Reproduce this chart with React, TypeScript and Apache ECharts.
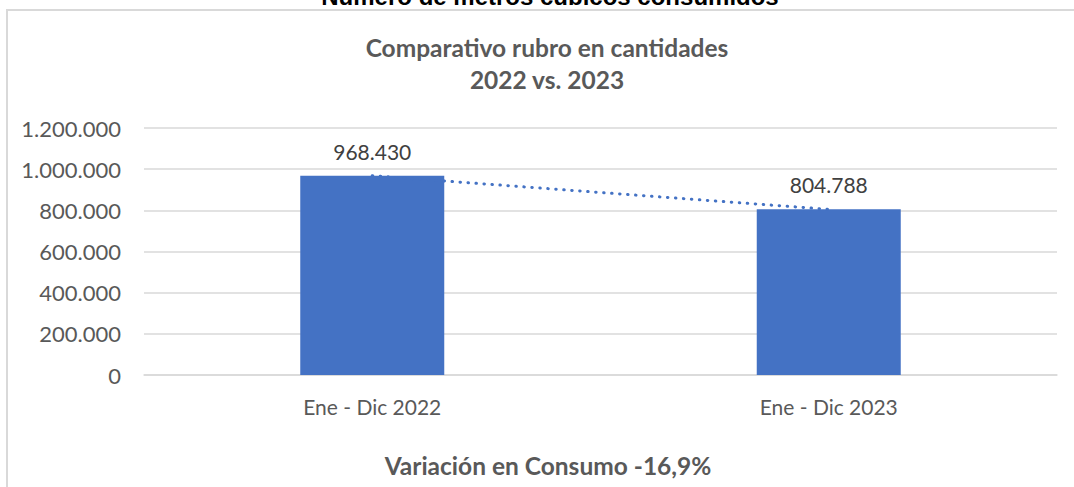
import React, { useEffect, useRef } from "react";
import * as echarts from "echarts";

const categories = ["Ene - Dic 2022", "Ene - Dic 2023"];
const consumo = [968430, 804788];
const trend = [968430, 804788];
const yMin = 0;
const yMax = 1200000;
const yInterval = 200000;
const topTitle = "Número de metros cúbicos consumidos";
const chartTitle = ["Comparativo rubro en cantidades", "2022 vs. 2023"];
const footer = "Variación en Consumo -16,9%";

const fmt = (v: number) => String(v).replace(/\B(?=(\d{3})+(?!\d))/g, ".");

const FONT = "Lato";

export default function App() {
  const ref = useRef<HTMLDivElement>(null);
  useEffect(() => {
    if (!ref.current) return;
    const chart = echarts.init(ref.current, null, { renderer: "svg" });
    chart.setOption({
      animation: false,
      backgroundColor: "#ffffff",
      grid: { left: 144, right: 17, top: 128, bottom: 112, containLabel: false },
      xAxis: {
        type: "category",
        data: categories,
        axisLine: { lineStyle: { color: "#d9d9d9", width: 1.5 } },
        axisTick: { show: false },
        axisLabel: { color: "#595959", fontFamily: FONT, fontSize: 21, margin: 21 },
      },
      yAxis: {
        type: "value",
        min: yMin,
        max: yMax,
        interval: yInterval,
        axisLine: { show: false },
        axisTick: { show: false },
        splitLine: { lineStyle: { color: "#d9d9d9", width: 1.5 } },
        axisLabel: { color: "#595959", fontFamily: FONT, fontSize: 22, margin: 23, formatter: (v: number) => fmt(v) },
      },
      series: [
        {
          type: "bar",
          data: consumo,
          barWidth: 144,
          itemStyle: { color: "#4472C4" },
          label: {
            show: true,
            position: "top",
            distance: 14,
            color: "#404040",
            fontFamily: FONT,
            fontSize: 21,
            formatter: (p: any) => fmt(p.value),
          },
          z: 2,
        },
        {
          type: "line",
          data: trend,
          symbol: "none",
          lineStyle: { color: "#4472C4", width: 3, type: [0.5, 7.5], cap: "round" },
          z: 3,
        },
      ],
      graphic: [
        {
          type: "rect",
          shape: { x: 7, y: 10, width: 1100, height: 500 },
          style: { fill: "none", stroke: "#d9d9d9", lineWidth: 2 },
          z: -1,
        },
        {
          type: "text",
          style: {
            text: topTitle,
            x: 550,
            y: 8,
            textAlign: "center",
            textVerticalAlign: "bottom",
            font: "bold 24px 'Liberation Sans', Arial, sans-serif",
            fill: "#000000",
          },
        },
        {
          type: "text",
          style: {
            text: chartTitle[0],
            x: 547,
            y: 47,
            textAlign: "center",
            textVerticalAlign: "middle",
            font: `bold 24.5px ${FONT}`,
            fill: "#595959",
          },
        },
        {
          type: "text",
          style: {
            text: chartTitle[1],
            x: 547,
            y: 79,
            textAlign: "center",
            textVerticalAlign: "middle",
            font: `bold 24.5px ${FONT}`,
            fill: "#595959",
          },
        },
        {
          type: "text",
          style: {
            text: footer,
            x: 548,
            y: 465,
            textAlign: "center",
            textVerticalAlign: "middle",
            font: `bold 24.5px ${FONT}`,
            fill: "#595959",
          },
        },
      ],
    });
    return () => chart.dispose();
  }, []);
  return (
    <div
      ref={ref}
      style={{ position: "fixed", left: 0, top: 0, width: 1074, height: 487 }}
    />
  );
}
